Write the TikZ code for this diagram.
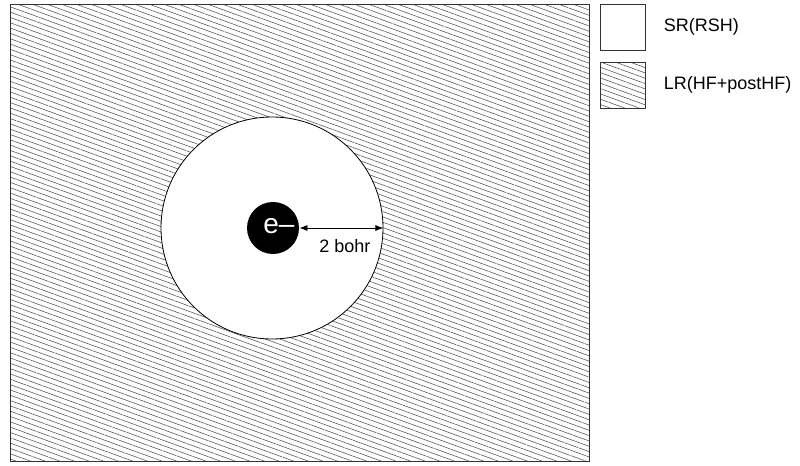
\documentclass[tikz,border=0pt]{standalone}
\usepackage{fontspec}
\setmainfont{Liberation Sans}
\usepackage{tikz}
\usetikzlibrary{patterns.meta,positioning,arrows.meta}

\begin{document}
\begin{tikzpicture}[x=0.5pt,y=-0.5pt,
  hatch/.style={draw=black!80,line width=0.4pt,pattern={Lines[angle=-20,distance=2.5pt,line width=0.3pt]},pattern color=black!65},
  legbox/.style={draw=black!80,line width=0.4pt,minimum width=22.5pt,minimum height=23pt,inner sep=0pt},
  lab/.style={font=\fontsize{9}{11}\selectfont,inner sep=0pt}]
\useasboundingbox (0,0) rectangle (800,466);
% long range region
\node[hatch,minimum width=289.5pt,minimum height=228.5pt,inner sep=0pt] (frame) at (299.5,232.5) {};
% short range sphere
\node[circle,fill=white,draw=black,line width=0.4pt,minimum size=111pt,inner sep=0pt] (shell) at (272,228) {};
\node[circle,fill=black,minimum size=26pt,inner sep=0pt] (elec) at (273,228) {};
\node[text=white,inner sep=0pt,font=\fontsize{14}{14}\selectfont] (etxt) at (279,226) {e--};
\draw[{Latex[length=4pt,width=3pt]}-{Latex[length=4pt,width=3pt]},line width=0.4pt] (elec.east) -- (shell.east);
\node[lab] (dist) at (345,246) {2 bohr};
% legend
\node[legbox] (srbox) at (622.5,27) {};
\node[legbox,hatch] (lrbox) at (622.5,85) {};
\node[lab,right=9pt of srbox] (srlab) {SR(RSH)};
\node[lab,right=9pt of lrbox] (lrlab) {LR(HF+postHF)};
\end{tikzpicture}
\end{document}
